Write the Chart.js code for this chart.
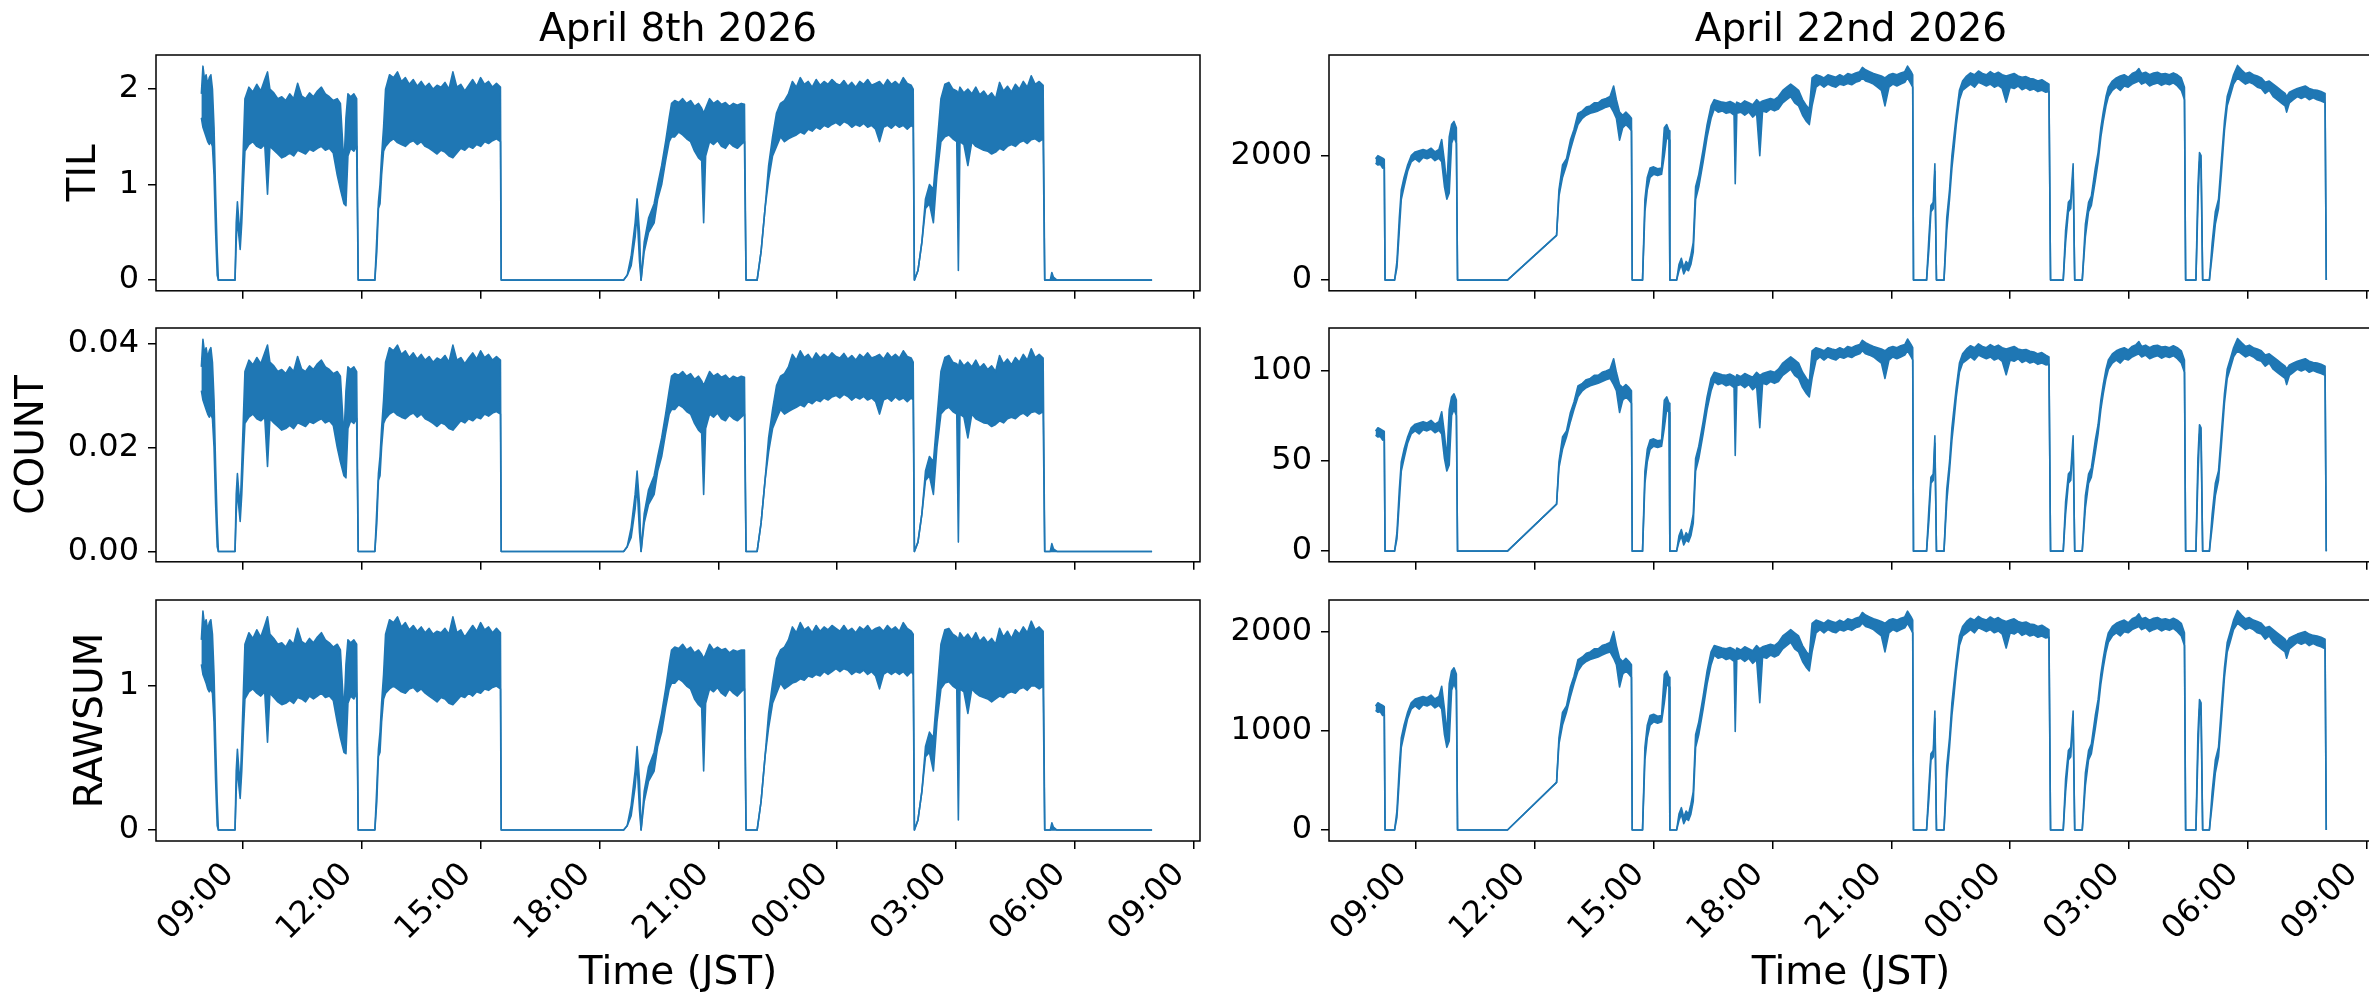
<!DOCTYPE html>
<html>
<head>
<meta charset="utf-8">
<title>TIL / COUNT / RAWSUM</title>
<script src="https://cdn.jsdelivr.net/npm/chart.js@4.4.1/dist/chart.umd.min.js"></script>
<style>
  html, body { margin: 0; padding: 0; background: #fff; overflow: hidden; }
  body { width: 2369px; height: 997px; position: relative; }
  canvas { position: absolute; }
</style>
</head>
<body>
<canvas id="tilLeft" width="1230" height="319" style="left:0;top:0"></canvas>
<canvas id="countLeft" width="1230" height="292" style="left:0;top:298px"></canvas>
<canvas id="rawLeft" width="1230" height="427" style="left:0;top:570px"></canvas>
<canvas id="tilRight" width="1213" height="319" style="left:1190px;top:0"></canvas>
<canvas id="countRight" width="1213" height="292" style="left:1190px;top:298px"></canvas>
<canvas id="rawRight" width="1213" height="427" style="left:1190px;top:570px"></canvas>
<script>
// time axis: hours after midnight of the first day (24 = 00:00 next day)
const xTickHours = [9, 12, 15, 18, 21, 24, 27, 30, 33];
const xTickLabels = ['09:00', '12:00', '15:00', '18:00', '21:00', '00:00', '03:00', '06:00', '09:00'];

const titles = ['April 8th 2026', 'April 22nd 2026'];

// ---------------- April 8th (left column) ----------------
// each value is the low / high edge of the noisy trace at that time
const leftHours = [
  7.95, 7.99, 8.03, 8.07, 8.11, 8.15, 8.19, 8.23, 8.27, 8.31, 8.35, 8.38,
  8.80, 8.83, 8.86, 8.90, 8.93, 8.97, 9.01, 9.05,
  9.15, 9.25, 9.35, 9.45, 9.55, 9.62, 9.68, 9.78, 9.88, 9.98, 10.08, 10.18,
  10.28, 10.38, 10.48, 10.58, 10.68, 10.78, 10.88, 10.98, 11.08, 11.18, 11.28, 11.38,
  11.46, 11.55, 11.60, 11.65, 11.72, 11.80, 11.87, 11.91,
  12.33, 12.38, 12.42, 12.46, 12.50, 12.55, 12.60,
  12.70, 12.80, 12.90, 13.00, 13.10, 13.20, 13.30, 13.40, 13.50, 13.60, 13.70, 13.80, 13.90, 14.00, 14.10,
  14.20, 14.30, 14.40, 14.50, 14.60, 14.70, 14.80, 14.90, 15.00, 15.10, 15.20, 15.30, 15.40, 15.50, 15.52,
  18.61, 18.70, 18.80, 18.90, 18.95, 19.01, 19.05, 19.13, 19.24, 19.38, 19.47, 19.57, 19.67, 19.76, 19.82,
  19.90, 20.00, 20.10, 20.20, 20.30, 20.40, 20.50, 20.58, 20.63, 20.68,
  20.78, 20.88, 20.98, 21.08, 21.18, 21.28, 21.38, 21.48, 21.58, 21.66, 21.70,
  21.98, 22.08, 22.18, 22.27, 22.37, 22.47, 22.57,
  22.67, 22.77, 22.87, 22.97, 23.07, 23.17, 23.27, 23.37, 23.47, 23.57, 23.67, 23.77,
  23.87, 23.97, 24.07, 24.17, 24.27, 24.37, 24.47, 24.57, 24.67, 24.77, 24.87, 24.97,
  25.07, 25.17, 25.27, 25.37, 25.47, 25.57, 25.67, 25.77, 25.87, 25.92, 25.95,
  26.04, 26.14, 26.23, 26.33, 26.43, 26.52, 26.62,
  26.72, 26.82, 26.92, 27.02, 27.06, 27.10, 27.20, 27.30, 27.40, 27.50, 27.60, 27.70,
  27.80, 27.90, 28.00, 28.10, 28.20, 28.30, 28.40, 28.50, 28.60, 28.70, 28.80, 28.90,
  29.00, 29.10, 29.20, 29.24, 29.38, 29.42, 29.46, 29.55, 31.95
];

const tilLeftLo = [
  1.70, 1.60, 1.55, 1.50, 1.45, 1.42, 1.45, 1.40, 1.10, 0.50, 0.05, 0,
  0, 0.40, 0.65, 0.45, 0.32, 0.60, 1.00, 1.35,
  1.42, 1.45, 1.40, 1.38, 1.42, 0.90, 1.40, 1.36, 1.32, 1.28, 1.30, 1.33,
  1.30, 1.36, 1.34, 1.32, 1.37, 1.35, 1.38, 1.40, 1.36, 1.38, 1.33, 1.10,
  0.95, 0.80, 0.78, 1.30, 1.38, 1.35, 1.40, 0,
  0, 0.30, 0.75, 0.80, 1.10, 1.35, 1.40,
  1.45, 1.48, 1.44, 1.42, 1.40, 1.44, 1.46, 1.42, 1.45, 1.40, 1.38, 1.35, 1.32, 1.36, 1.34,
  1.30, 1.28, 1.33, 1.38, 1.36, 1.40, 1.38, 1.42, 1.40, 1.45, 1.43, 1.46, 1.48, 1.45, 0,
  0, 0.05, 0.15, 0.45, 0.70, 0.20, 0, 0.30, 0.50, 0.60, 0.85, 1.00, 1.25, 1.45, 1.50,
  1.50, 1.55, 1.52, 1.48, 1.45, 1.35, 1.28, 1.25, 0.60, 1.30,
  1.45, 1.42, 1.46, 1.40, 1.38, 1.44, 1.40, 1.38, 1.42, 1.45, 0,
  0, 0.30, 0.75, 1.05, 1.30, 1.40, 1.50,
  1.45, 1.48, 1.50, 1.52, 1.55, 1.53, 1.58, 1.56, 1.60, 1.58, 1.62, 1.60,
  1.63, 1.65, 1.62, 1.66, 1.64, 1.60, 1.63, 1.61, 1.64, 1.60, 1.62, 1.58,
  1.45, 1.60, 1.62, 1.59, 1.63, 1.60, 1.62, 1.58, 1.62, 1.60, 0,
  0.10, 0.40, 0.75, 0.80, 0.60, 1.10, 1.45,
  1.50, 1.52, 1.48, 1.45, 0.10, 1.45, 1.42, 1.20, 1.45, 1.40, 1.38, 1.36,
  1.35, 1.32, 1.34, 1.38, 1.36, 1.40, 1.42, 1.40, 1.44, 1.46, 1.43, 1.47,
  1.48, 1.45, 1.48, 0, 0, 0, 0, 0, 0
];
const tilLeftHi = [
  1.95, 2.24, 2.10, 2.15, 2.05, 2.12, 2.15, 2.00, 1.60, 0.90, 0.30, 0,
  0, 0.60, 0.82, 0.60, 0.45, 0.90, 1.40, 1.90,
  2.02, 1.97, 2.05, 1.98, 2.10, 2.18, 2.00, 1.96, 1.90, 1.92, 1.88, 1.95,
  1.90, 2.06, 1.93, 1.90, 1.96, 1.92, 1.98, 2.02, 1.95, 1.92, 1.88, 1.90,
  1.85, 1.20, 1.70, 1.95, 1.92, 1.95, 1.90, 0,
  0, 0.45, 0.82, 1.00, 1.30, 1.60, 2.00,
  2.15, 2.12, 2.18, 2.08, 2.12, 2.05, 2.10, 2.03, 2.08, 2.02, 2.06, 2.00, 2.04, 2.02, 2.07,
  2.00, 2.18, 2.02, 2.05, 1.98, 2.04, 2.10, 2.03, 2.12, 2.05, 2.08, 2.02, 2.06, 2.02, 0,
  0, 0.05, 0.25, 0.60, 0.85, 0.50, 0, 0.40, 0.65, 0.80, 1.00, 1.20, 1.45, 1.70, 1.85,
  1.88, 1.86, 1.90, 1.85, 1.88, 1.82, 1.85, 1.80, 1.75, 1.80,
  1.90, 1.85, 1.88, 1.84, 1.86, 1.82, 1.85, 1.83, 1.85, 1.84, 0,
  0, 0.30, 0.75, 1.20, 1.50, 1.75, 1.85,
  1.88, 1.95, 2.08, 2.02, 2.12, 2.05, 2.08, 2.02, 2.10, 2.04, 2.08, 2.05,
  2.10, 2.06, 2.04, 2.09, 2.03, 2.07, 2.02, 2.08, 2.05, 2.10, 2.04, 2.06,
  2.08, 2.03, 2.10, 2.05, 2.08, 2.04, 2.12, 2.06, 2.04, 2.00, 0,
  0.10, 0.40, 0.85, 1.00, 0.95, 1.40, 1.90,
  2.05, 2.07, 2.00, 1.98, 1.95, 2.02, 1.96, 2.00, 1.95, 2.02, 1.94, 1.98,
  1.92, 1.96, 1.90, 2.07, 1.98, 2.03, 1.97, 2.05, 2.00, 2.08, 2.02, 2.14,
  2.05, 2.08, 2.04, 0, 0, 0.08, 0.03, 0, 0
];

const countLeftLo = [
  0.0310, 0.0292, 0.0283, 0.0274, 0.0265, 0.0259, 0.0265, 0.0256, 0.0201, 0.0091, 0.0009, 0,
  0, 0.0073, 0.0119, 0.0082, 0.0058, 0.0110, 0.0183, 0.0247,
  0.0259, 0.0265, 0.0256, 0.0252, 0.0259, 0.0164, 0.0256, 0.0248, 0.0241, 0.0234, 0.0237, 0.0243,
  0.0237, 0.0248, 0.0245, 0.0241, 0.0250, 0.0247, 0.0252, 0.0256, 0.0248, 0.0252, 0.0243, 0.0201,
  0.0173, 0.0146, 0.0142, 0.0237, 0.0252, 0.0247, 0.0256, 0,
  0, 0.0055, 0.0137, 0.0146, 0.0201, 0.0247, 0.0256,
  0.0265, 0.0270, 0.0263, 0.0259, 0.0256, 0.0263, 0.0267, 0.0259, 0.0265, 0.0256, 0.0252, 0.0247, 0.0241, 0.0248, 0.0245,
  0.0237, 0.0234, 0.0243, 0.0252, 0.0248, 0.0256, 0.0252, 0.0259, 0.0256, 0.0265, 0.0261, 0.0267, 0.0270, 0.0265, 0,
  0, 0.0009, 0.0027, 0.0082, 0.0128, 0.0037, 0, 0.0055, 0.0091, 0.0110, 0.0155, 0.0183, 0.0228, 0.0265, 0.0274,
  0.0274, 0.0283, 0.0278, 0.0270, 0.0265, 0.0247, 0.0234, 0.0228, 0.0110, 0.0237,
  0.0265, 0.0259, 0.0267, 0.0256, 0.0252, 0.0263, 0.0256, 0.0252, 0.0259, 0.0265, 0,
  0, 0.0055, 0.0137, 0.0192, 0.0237, 0.0256, 0.0274,
  0.0265, 0.0270, 0.0274, 0.0278, 0.0283, 0.0279, 0.0289, 0.0285, 0.0292, 0.0289, 0.0296, 0.0292,
  0.0298, 0.0301, 0.0296, 0.0303, 0.0299, 0.0292, 0.0298, 0.0294, 0.0299, 0.0292, 0.0296, 0.0289,
  0.0265, 0.0292, 0.0296, 0.0290, 0.0298, 0.0292, 0.0296, 0.0289, 0.0296, 0.0292, 0,
  0.0018, 0.0073, 0.0137, 0.0146, 0.0110, 0.0201, 0.0265,
  0.0274, 0.0278, 0.0270, 0.0265, 0.0018, 0.0265, 0.0259, 0.0219, 0.0265, 0.0256, 0.0252, 0.0248,
  0.0247, 0.0241, 0.0245, 0.0252, 0.0248, 0.0256, 0.0259, 0.0256, 0.0263, 0.0267, 0.0261, 0.0268,
  0.0270, 0.0265, 0.0270, 0, 0, 0, 0, 0, 0
];
const countLeftHi = [
  0.0356, 0.0409, 0.0383, 0.0393, 0.0374, 0.0387, 0.0393, 0.0365, 0.0292, 0.0164, 0.0055, 0,
  0, 0.0110, 0.0150, 0.0110, 0.0082, 0.0164, 0.0256, 0.0347,
  0.0369, 0.0360, 0.0374, 0.0362, 0.0383, 0.0398, 0.0365, 0.0358, 0.0347, 0.0351, 0.0343, 0.0356,
  0.0347, 0.0376, 0.0352, 0.0347, 0.0358, 0.0351, 0.0362, 0.0369, 0.0356, 0.0351, 0.0343, 0.0347,
  0.0338, 0.0219, 0.0310, 0.0356, 0.0351, 0.0356, 0.0347, 0,
  0, 0.0082, 0.0150, 0.0183, 0.0237, 0.0292, 0.0365,
  0.0393, 0.0387, 0.0398, 0.0380, 0.0387, 0.0374, 0.0383, 0.0371, 0.0380, 0.0369, 0.0376, 0.0365, 0.0373, 0.0369, 0.0378,
  0.0365, 0.0398, 0.0369, 0.0374, 0.0362, 0.0373, 0.0383, 0.0371, 0.0387, 0.0374, 0.0380, 0.0369, 0.0376, 0.0369, 0,
  0, 0.0009, 0.0046, 0.0110, 0.0155, 0.0091, 0, 0.0073, 0.0119, 0.0146, 0.0183, 0.0219, 0.0265, 0.0310, 0.0338,
  0.0343, 0.0340, 0.0347, 0.0338, 0.0343, 0.0332, 0.0338, 0.0329, 0.0320, 0.0329,
  0.0347, 0.0338, 0.0343, 0.0336, 0.0340, 0.0332, 0.0338, 0.0334, 0.0338, 0.0336, 0,
  0, 0.0055, 0.0137, 0.0219, 0.0274, 0.0320, 0.0338,
  0.0343, 0.0356, 0.0380, 0.0369, 0.0387, 0.0374, 0.0380, 0.0369, 0.0383, 0.0373, 0.0380, 0.0374,
  0.0383, 0.0376, 0.0373, 0.0382, 0.0371, 0.0378, 0.0369, 0.0380, 0.0374, 0.0383, 0.0373, 0.0376,
  0.0380, 0.0371, 0.0383, 0.0374, 0.0380, 0.0373, 0.0387, 0.0376, 0.0373, 0.0365, 0,
  0.0018, 0.0073, 0.0155, 0.0183, 0.0173, 0.0256, 0.0347,
  0.0374, 0.0378, 0.0365, 0.0362, 0.0356, 0.0369, 0.0358, 0.0365, 0.0356, 0.0369, 0.0354, 0.0362,
  0.0351, 0.0358, 0.0347, 0.0378, 0.0362, 0.0371, 0.0360, 0.0374, 0.0365, 0.0380, 0.0369, 0.0391,
  0.0374, 0.0380, 0.0373, 0, 0, 0.0015, 0.0005, 0, 0
];

const rawLeftLo = [
  1.15, 1.08, 1.05, 1.02, 0.98, 0.96, 0.98, 0.95, 0.75, 0.34, 0.03, 0,
  0, 0.27, 0.44, 0.30, 0.22, 0.41, 0.68, 0.91,
  0.96, 0.98, 0.95, 0.93, 0.96, 0.61, 0.95, 0.92, 0.89, 0.87, 0.88, 0.90,
  0.88, 0.92, 0.91, 0.89, 0.93, 0.91, 0.93, 0.95, 0.92, 0.93, 0.90, 0.75,
  0.64, 0.54, 0.53, 0.88, 0.93, 0.91, 0.95, 0,
  0, 0.20, 0.51, 0.54, 0.75, 0.91, 0.95,
  0.98, 1.00, 0.98, 0.96, 0.95, 0.98, 0.99, 0.96, 0.98, 0.95, 0.93, 0.91, 0.89, 0.92, 0.91,
  0.88, 0.87, 0.90, 0.93, 0.92, 0.95, 0.93, 0.96, 0.95, 0.98, 0.97, 0.99, 1.00, 0.98, 0,
  0, 0.03, 0.10, 0.30, 0.47, 0.14, 0, 0.20, 0.34, 0.41, 0.58, 0.68, 0.85, 0.98, 1.02,
  1.02, 1.05, 1.03, 1.00, 0.98, 0.91, 0.87, 0.85, 0.41, 0.88,
  0.98, 0.96, 0.99, 0.95, 0.93, 0.98, 0.95, 0.93, 0.96, 0.98, 0,
  0, 0.20, 0.51, 0.71, 0.88, 0.95, 1.02,
  0.98, 1.00, 1.02, 1.03, 1.05, 1.04, 1.07, 1.06, 1.08, 1.07, 1.10, 1.08,
  1.10, 1.12, 1.10, 1.12, 1.11, 1.08, 1.10, 1.09, 1.11, 1.08, 1.10, 1.07,
  0.98, 1.08, 1.10, 1.08, 1.10, 1.08, 1.10, 1.07, 1.10, 1.08, 0,
  0.07, 0.27, 0.51, 0.54, 0.41, 0.75, 0.98,
  1.02, 1.03, 1.00, 0.98, 0.07, 0.98, 0.96, 0.81, 0.98, 0.95, 0.93, 0.92,
  0.91, 0.89, 0.91, 0.93, 0.92, 0.95, 0.96, 0.95, 0.98, 0.99, 0.97, 1.00,
  1.00, 0.98, 1.00, 0, 0, 0, 0, 0, 0
];
const rawLeftHi = [
  1.32, 1.52, 1.42, 1.46, 1.39, 1.44, 1.46, 1.36, 1.08, 0.61, 0.20, 0,
  0, 0.41, 0.56, 0.41, 0.30, 0.61, 0.95, 1.29,
  1.37, 1.33, 1.39, 1.34, 1.42, 1.48, 1.36, 1.33, 1.29, 1.30, 1.27, 1.32,
  1.29, 1.40, 1.31, 1.29, 1.33, 1.30, 1.34, 1.37, 1.32, 1.30, 1.27, 1.29,
  1.25, 0.81, 1.15, 1.32, 1.30, 1.32, 1.29, 0,
  0, 0.30, 0.56, 0.68, 0.88, 1.08, 1.36,
  1.46, 1.44, 1.48, 1.41, 1.44, 1.39, 1.42, 1.38, 1.41, 1.37, 1.40, 1.36, 1.38, 1.37, 1.40,
  1.36, 1.48, 1.37, 1.39, 1.34, 1.38, 1.42, 1.38, 1.44, 1.39, 1.41, 1.37, 1.40, 1.37, 0,
  0, 0.03, 0.17, 0.41, 0.58, 0.34, 0, 0.27, 0.44, 0.54, 0.68, 0.81, 0.98, 1.15, 1.25,
  1.27, 1.26, 1.29, 1.25, 1.27, 1.23, 1.25, 1.22, 1.19, 1.22,
  1.29, 1.25, 1.27, 1.25, 1.26, 1.23, 1.25, 1.24, 1.25, 1.25, 0,
  0, 0.20, 0.51, 0.81, 1.02, 1.19, 1.25,
  1.27, 1.32, 1.41, 1.37, 1.44, 1.39, 1.41, 1.37, 1.42, 1.38, 1.41, 1.39,
  1.42, 1.40, 1.38, 1.42, 1.38, 1.40, 1.37, 1.41, 1.39, 1.42, 1.38, 1.40,
  1.41, 1.38, 1.42, 1.39, 1.41, 1.38, 1.44, 1.40, 1.38, 1.36, 0,
  0.07, 0.27, 0.58, 0.68, 0.64, 0.95, 1.29,
  1.39, 1.40, 1.36, 1.34, 1.32, 1.37, 1.33, 1.36, 1.32, 1.37, 1.31, 1.34,
  1.30, 1.33, 1.29, 1.40, 1.34, 1.38, 1.33, 1.39, 1.36, 1.41, 1.37, 1.45,
  1.39, 1.41, 1.38, 0, 0, 0.05, 0.02, 0, 0
];

// ---------------- April 22nd (right column) ----------------
const rightHours = [
  7.98, 8.04, 8.10, 8.16, 8.20, 8.22,
  8.46, 8.52, 8.58, 8.63, 8.70, 8.79, 8.88, 8.98, 9.08, 9.18, 9.28, 9.38,
  9.48, 9.58, 9.65, 9.72, 9.78, 9.84, 9.90, 9.96, 10.02, 10.05,
  11.31, 12.55, 12.61, 12.70, 12.80, 12.90, 12.99, 13.09, 13.20, 13.30, 13.40, 13.50,
  13.60, 13.70, 13.80, 13.90, 13.99, 14.06, 14.14, 14.22, 14.30, 14.38, 14.44, 14.46,
  14.72, 14.78, 14.84, 14.91, 15.00, 15.10, 15.20, 15.27, 15.33, 15.39, 15.41,
  15.58, 15.64, 15.70, 15.76, 15.82, 15.88, 15.94, 16.00, 16.06, 16.14, 16.25, 16.35, 16.45, 16.53,
  16.63, 16.73, 16.83, 16.93, 17.03, 17.06, 17.10, 17.20, 17.30, 17.40, 17.50, 17.60,
  17.68, 17.75, 17.85, 17.95, 18.05, 18.15, 18.26, 18.36, 18.46, 18.56, 18.66, 18.76,
  18.86, 18.93, 19.00, 19.10, 19.20, 19.30, 19.40, 19.50, 19.60, 19.70, 19.80, 19.90,
  20.00, 20.10, 20.20, 20.27, 20.35, 20.45, 20.55, 20.65, 20.75, 20.84, 20.94, 21.04,
  21.14, 21.24, 21.34, 21.41, 21.50, 21.54, 21.56,
  21.89, 21.95, 22.00, 22.06, 22.10, 22.14, 22.33, 22.40, 22.47, 22.53, 22.58, 22.64, 22.72, 22.80, 22.90,
  23.00, 23.10, 23.20, 23.30, 23.40, 23.50, 23.60, 23.70, 23.80, 23.90, 24.00,
  24.10, 24.20, 24.30, 24.40, 24.50, 24.60, 24.70, 24.80, 24.90, 24.98, 25.02,
  25.34, 25.40, 25.47, 25.53, 25.59, 25.63, 25.82, 25.90, 25.98, 26.05, 26.15, 26.22, 26.29, 26.35, 26.42, 26.48, 26.58,
  26.68, 26.78, 26.88, 26.98, 27.08, 27.18, 27.25, 27.32, 27.42, 27.52,
  27.62, 27.72, 27.82, 27.92, 28.02, 28.12, 28.22, 28.32, 28.40, 28.43,
  28.69, 28.74, 28.78, 28.82, 28.86, 29.03, 29.10, 29.18, 29.26, 29.33, 29.41, 29.48, 29.55, 29.64,
  29.74, 29.84, 29.94, 30.04, 30.14, 30.24, 30.34, 30.44, 30.54, 30.64, 30.74, 30.84,
  30.94, 30.98, 31.05, 31.15, 31.25, 31.35, 31.45, 31.55, 31.65, 31.75, 31.85, 31.95, 31.98
];

const tilRightLo = [
  1880, 1850, 1860, 1800, 1820, 0,
  0, 200, 800, 1300, 1500, 1750, 1900, 1950, 1900, 1970, 1950, 1980,
  1920, 1960, 1900, 1500, 1300, 1400, 2200, 2300, 2200, 0,
  0, 720, 1350, 1650, 1850, 2100, 2300, 2500, 2600, 2650, 2680, 2700,
  2720, 2750, 2780, 2800, 2700, 2600, 2250, 2450, 2500, 2450, 2400, 0,
  0, 1100, 1450, 1650, 1700, 1680, 1700, 2000, 2300, 2250, 0,
  0, 150, 250, 100, 180, 150, 250, 450, 1300, 1500, 1900, 2300, 2600, 2750,
  2700, 2720, 2680, 2700, 2650, 1550, 2680, 2700, 2650, 2700, 2620, 2680,
  2000, 2720, 2700, 2750, 2720, 2750, 2850, 2900, 2950, 2850, 2800, 2650,
  2550, 2500, 2800, 3100, 3150, 3100, 3150, 3120, 3100, 3150, 3130, 3160,
  3140, 3180, 3200, 3250, 3200, 3180, 3150, 3100, 3050, 2800, 3100, 3150,
  3120, 3150, 3180, 3250, 3150, 3100, 0,
  0, 500, 1100, 1150, 1750, 0, 0, 800, 1300, 1800, 2100, 2500, 2900, 3050, 3100,
  3150, 3100, 3180, 3150, 3120, 3150, 3100, 3130, 3080, 2860, 3100,
  3080, 3120, 3060, 3090, 3050, 3070, 3030, 3050, 3020, 3030, 0,
  0, 600, 1100, 1150, 1750, 0, 0, 700, 1100, 1200, 1600, 1900, 2300, 2550, 2800, 2950, 3050,
  3100, 3050, 3120, 3100, 3150, 3180, 3200, 3150, 3180, 3120,
  3150, 3170, 3130, 3160, 3140, 3170, 3120, 3050, 2900, 0,
  0, 1200, 1900, 1800, 0, 0, 400, 900, 1150, 1700, 2400, 2800, 2950, 3150,
  3250, 3200, 3150, 3180, 3150, 3100, 3080, 3000, 3050, 2950, 2900, 2850,
  2800, 2700, 2850, 2900, 2950, 2920, 2950, 2900, 2930, 2900, 2880, 2850, 0
];
const tilRightHi = [
  1950, 2000, 1980, 1960, 1940, 0,
  0, 300, 1000, 1450, 1650, 1850, 2000, 2060, 2080, 2100, 2080, 2120,
  2060, 2100, 2260, 1900, 1500, 2300, 2500, 2550, 2450, 0,
  0, 720, 1450, 1850, 1950, 2250, 2420, 2680, 2720, 2780, 2800, 2850,
  2850, 2900, 2920, 2950, 3120, 2900, 2700, 2650, 2700, 2650, 2600, 0,
  0, 1300, 1650, 1800, 1820, 1790, 1800, 2450, 2500, 2400, 0,
  0, 250, 350, 200, 300, 250, 400, 600, 1500, 1700, 2100, 2500, 2800, 2900,
  2880, 2860, 2850, 2870, 2840, 2800, 2860, 2830, 2880, 2850, 2820, 2900,
  2850, 2880, 2900, 2920, 2900, 2950, 3050, 3100, 3150, 3100, 3050, 2900,
  2800, 2750, 3250, 3300, 3280, 3250, 3300, 3280, 3260, 3300, 3270, 3320,
  3300, 3330, 3350, 3420, 3380, 3350, 3320, 3300, 3280, 3250, 3300, 3320,
  3300, 3330, 3350, 3440, 3350, 3300, 0,
  0, 700, 1200, 1250, 1870, 0, 0, 1000, 1450, 2000, 2300, 2650, 3050, 3200, 3280,
  3330, 3300, 3360, 3320, 3300, 3350, 3310, 3340, 3300, 3280, 3300,
  3320, 3280, 3260, 3270, 3240, 3230, 3200, 3220, 3180, 3150, 0,
  0, 800, 1250, 1300, 1870, 0, 0, 900, 1250, 1350, 1800, 2050, 2450, 2700, 2950, 3100, 3200,
  3250, 3280, 3300, 3260, 3320, 3350, 3400, 3320, 3340, 3300,
  3330, 3340, 3310, 3320, 3300, 3330, 3300, 3250, 3100, 0,
  0, 1500, 2050, 2000, 0, 0, 600, 1100, 1300, 1900, 2550, 2950, 3100, 3300,
  3450, 3380, 3320, 3340, 3300, 3280, 3250, 3180, 3200, 3150, 3100, 3050,
  3000, 2950, 3020, 3050, 3080, 3100, 3120, 3080, 3060, 3050, 3030, 3000, 0
];

const countRightLo = [
  64.1, 63.1, 63.4, 61.4, 62.1, 0,
  0, 6.8, 27.3, 44.3, 51.2, 59.7, 64.8, 66.5, 64.8, 67.2, 66.5, 67.5,
  65.5, 66.8, 64.8, 51.2, 44.3, 47.7, 75.0, 78.4, 75.0, 0,
  0, 26, 46.0, 56.3, 63.1, 71.6, 78.4, 85.3, 88.7, 90.4, 91.4, 92.1,
  92.8, 93.8, 94.8, 95.5, 92.1, 88.7, 76.7, 83.5, 85.3, 83.5, 81.8, 0,
  0, 37.5, 49.4, 56.3, 58.0, 57.3, 58.0, 68.2, 78.4, 76.7, 0,
  0, 5.1, 8.5, 3.4, 6.1, 5.1, 8.5, 15.3, 44.3, 51.2, 64.8, 78.4, 88.7, 93.8,
  92.1, 92.8, 91.4, 92.1, 90.4, 52.9, 91.4, 92.1, 90.4, 92.1, 89.3, 91.4,
  68.2, 92.8, 92.1, 93.8, 92.8, 93.8, 97.2, 98.9, 100.6, 97.2, 95.5, 90.4,
  87.0, 85.3, 95.5, 105.7, 107.4, 105.7, 107.4, 106.4, 105.7, 107.4, 106.7, 107.8,
  107.1, 108.4, 109.1, 110.8, 109.1, 108.4, 107.4, 105.7, 104.0, 95.5, 105.7, 107.4,
  106.4, 107.4, 108.4, 110.8, 107.4, 105.7, 0,
  0, 17.1, 37.5, 39.2, 59.7, 0, 0, 27.3, 44.3, 61.4, 71.6, 85.3, 98.9, 104.0, 105.7,
  107.4, 105.7, 108.4, 107.4, 106.4, 107.4, 105.7, 106.7, 105.0, 97.5, 105.7,
  105.0, 106.4, 104.3, 105.4, 104.0, 104.7, 103.3, 104.0, 103.0, 103.3, 0,
  0, 20.5, 37.5, 39.2, 59.7, 0, 0, 23.9, 37.5, 40.9, 54.6, 64.8, 78.4, 87.0, 95.5, 100.6, 104.0,
  105.7, 104.0, 106.4, 105.7, 107.4, 108.4, 109.1, 107.4, 108.4, 106.4,
  107.4, 108.1, 106.7, 107.8, 107.1, 108.1, 106.4, 104.0, 98.9, 0,
  0, 40.9, 64.8, 61.4, 0, 0, 13.6, 30.7, 39.2, 58.0, 81.8, 95.5, 100.6, 107.4,
  110.8, 109.1, 107.4, 108.4, 107.4, 105.7, 105.0, 102.3, 104.0, 100.6, 98.9, 97.2,
  95.5, 92.1, 97.2, 98.9, 100.6, 99.6, 100.6, 98.9, 99.9, 98.9, 98.2, 97.2, 0
];
const countRightHi = [
  66.5, 68.2, 67.5, 66.8, 66.2, 0,
  0, 10.2, 34.1, 49.4, 56.3, 63.1, 68.2, 70.2, 70.9, 71.6, 70.9, 72.3,
  70.2, 71.6, 77.1, 64.8, 51.2, 78.4, 85.3, 87.0, 83.5, 0,
  0, 26, 49.4, 63.1, 66.5, 76.7, 82.5, 91.4, 92.8, 94.8, 95.5, 97.2,
  97.2, 98.9, 99.6, 100.6, 106.4, 98.9, 92.1, 90.4, 92.1, 90.4, 88.7, 0,
  0, 44.3, 56.3, 61.4, 62.1, 61.0, 61.4, 83.5, 85.3, 81.8, 0,
  0, 8.5, 11.9, 6.8, 10.2, 8.5, 13.6, 20.5, 51.2, 58.0, 71.6, 85.3, 95.5, 98.9,
  98.2, 97.5, 97.2, 97.9, 96.8, 95.5, 97.5, 96.5, 98.2, 97.2, 96.2, 98.9,
  97.2, 98.2, 98.9, 99.6, 98.9, 100.6, 104.0, 105.7, 107.4, 105.7, 104.0, 98.9,
  95.5, 93.8, 110.8, 112.5, 111.8, 110.8, 112.5, 111.8, 111.2, 112.5, 111.5, 113.2,
  112.5, 113.6, 114.2, 116.6, 115.3, 114.2, 113.2, 112.5, 111.8, 110.8, 112.5, 113.2,
  112.5, 113.6, 114.2, 117.3, 114.2, 112.5, 0,
  0, 23.9, 40.9, 42.6, 63.8, 0, 0, 34.1, 49.4, 68.2, 78.4, 90.4, 104.0, 109.1, 111.8,
  113.6, 112.5, 114.6, 113.2, 112.5, 114.2, 112.9, 113.9, 112.5, 111.8, 112.5,
  113.2, 111.8, 111.2, 111.5, 110.5, 110.1, 109.1, 109.8, 108.4, 107.4, 0,
  0, 27.3, 42.6, 44.3, 63.8, 0, 0, 30.7, 42.6, 46.0, 61.4, 69.9, 83.5, 92.1, 100.6, 105.7, 109.1,
  110.8, 111.8, 112.5, 111.2, 113.2, 114.2, 115.9, 113.2, 113.9, 112.5,
  113.6, 113.9, 112.9, 113.2, 112.5, 113.6, 112.5, 110.8, 105.7, 0,
  0, 51.2, 69.9, 68.2, 0, 0, 20.5, 37.5, 44.3, 64.8, 87.0, 100.6, 105.7, 112.5,
  117.6, 115.3, 113.2, 113.9, 112.5, 111.8, 110.8, 108.4, 109.1, 107.4, 105.7, 104.0,
  102.3, 100.6, 103.0, 104.0, 105.0, 105.7, 106.4, 105.0, 104.3, 104.0, 103.3, 102.3, 0
];

const rawRightLo = [
  1206, 1187, 1193, 1155, 1168, 0,
  0, 128, 513, 834, 962, 1123, 1219, 1251, 1219, 1264, 1251, 1270,
  1232, 1257, 1219, 962, 834, 898, 1411, 1475, 1411, 0,
  0, 480, 866, 1058, 1187, 1347, 1475, 1604, 1668, 1700, 1719, 1732,
  1745, 1764, 1783, 1796, 1732, 1668, 1443, 1572, 1604, 1572, 1540, 0,
  0, 706, 930, 1058, 1091, 1078, 1091, 1283, 1475, 1443, 0,
  0, 96, 160, 64, 115, 96, 160, 289, 834, 962, 1219, 1475, 1668, 1764,
  1732, 1745, 1719, 1732, 1700, 994, 1719, 1732, 1700, 1732, 1681, 1719,
  1283, 1745, 1732, 1764, 1745, 1764, 1828, 1860, 1892, 1828, 1796, 1700,
  1636, 1604, 1796, 1989, 2021, 1989, 2021, 2001, 1989, 2021, 2008, 2027,
  2014, 2040, 2053, 2085, 2053, 2040, 2021, 1989, 1957, 1796, 1989, 2021,
  2001, 2021, 2040, 2085, 2021, 1989, 0,
  0, 321, 706, 738, 1123, 0, 0, 513, 834, 1155, 1347, 1604, 1860, 1957, 1989,
  2021, 1989, 2040, 2021, 2001, 2021, 1989, 2008, 1976, 1835, 1989,
  1976, 2001, 1963, 1982, 1957, 1969, 1944, 1957, 1937, 1944, 0,
  0, 385, 706, 738, 1123, 0, 0, 449, 706, 770, 1026, 1219, 1475, 1636, 1796, 1892, 1957,
  1989, 1957, 2001, 1989, 2021, 2040, 2053, 2021, 2040, 2001,
  2021, 2034, 2008, 2027, 2014, 2034, 2001, 1957, 1860, 0,
  0, 770, 1219, 1155, 0, 0, 257, 577, 738, 1091, 1540, 1796, 1892, 2021,
  2085, 2053, 2021, 2040, 2021, 1989, 1976, 1925, 1957, 1892, 1860, 1828,
  1796, 1732, 1828, 1860, 1892, 1873, 1892, 1860, 1880, 1860, 1848, 1828, 0
];
const rawRightHi = [
  1251, 1283, 1270, 1257, 1245, 0,
  0, 192, 642, 930, 1058, 1187, 1283, 1321, 1334, 1347, 1334, 1360,
  1321, 1347, 1450, 1219, 962, 1475, 1604, 1636, 1572, 0,
  0, 480, 930, 1187, 1251, 1443, 1552, 1719, 1745, 1783, 1796, 1828,
  1828, 1860, 1873, 1892, 2001, 1860, 1732, 1700, 1732, 1700, 1668, 0,
  0, 834, 1058, 1155, 1168, 1148, 1155, 1572, 1604, 1540, 0,
  0, 160, 225, 128, 192, 160, 257, 385, 962, 1091, 1347, 1604, 1796, 1860,
  1848, 1835, 1828, 1841, 1822, 1796, 1835, 1815, 1848, 1828, 1809, 1860,
  1828, 1848, 1860, 1873, 1860, 1892, 1957, 1989, 2021, 1989, 1957, 1860,
  1796, 1764, 2085, 2117, 2104, 2085, 2117, 2104, 2091, 2117, 2098, 2130,
  2117, 2136, 2149, 2194, 2168, 2149, 2130, 2117, 2104, 2085, 2117, 2130,
  2117, 2136, 2149, 2207, 2149, 2117, 0,
  0, 449, 770, 802, 1200, 0, 0, 642, 930, 1283, 1475, 1700, 1957, 2053, 2104,
  2136, 2117, 2155, 2130, 2117, 2149, 2123, 2143, 2117, 2104, 2117,
  2130, 2104, 2091, 2098, 2078, 2072, 2053, 2066, 2040, 2021, 0,
  0, 513, 802, 834, 1200, 0, 0, 577, 802, 866, 1155, 1315, 1572, 1732, 1892, 1989, 2053,
  2085, 2104, 2117, 2091, 2130, 2149, 2181, 2130, 2143, 2117,
  2136, 2143, 2123, 2130, 2117, 2136, 2117, 2085, 1989, 0,
  0, 962, 1315, 1283, 0, 0, 385, 706, 834, 1219, 1636, 1892, 1989, 2117,
  2213, 2168, 2130, 2143, 2117, 2104, 2085, 2040, 2053, 2021, 1989, 1957,
  1925, 1892, 1937, 1957, 1976, 1989, 2001, 1976, 1963, 1957, 1944, 1925, 0
];

// y axis ticks per panel
const tilLeftTicks = [0, 1, 2];
const tilLeftTickLabels = ['0', '1', '2'];
const countLeftTicks = [0, 0.02, 0.04];
const countLeftTickLabels = ['0.00', '0.02', '0.04'];
const rawLeftTicks = [0, 1];
const rawLeftTickLabels = ['0', '1'];
const tilRightTicks = [0, 2000];
const tilRightTickLabels = ['0', '2000'];
const countRightTicks = [0, 50, 100];
const countRightTickLabels = ['0', '50', '100'];
const rawRightTicks = [0, 1000, 2000];
const rawRightTickLabels = ['0', '1000', '2000'];

const BLUE = '#1f77b4';
Chart.defaults.font.family = '"DejaVu Sans", sans-serif';
Chart.defaults.color = '#000';

// box around each axes, like matplotlib spines
const frame = {
  id: 'frame',
  afterDraw(chart) {
    const { ctx, chartArea: a } = chart;
    ctx.save();
    ctx.strokeStyle = '#000';
    ctx.lineWidth = 1.5;
    ctx.strokeRect(a.left, a.top, a.right - a.left, a.bottom - a.top);
    ctx.restore();
  }
};

function drawPanel(id, p) {
  if (p.lo.length !== p.hours.length || p.hi.length !== p.hours.length) {
    throw new Error(id + ': ' + p.hours.length + ' / ' + p.lo.length + ' / ' + p.hi.length);
  }
  const hiPts = p.hours.map((h, i) => ({ x: h, y: p.hi[i] }));
  const loPts = p.hours.map((h, i) => ({ x: h, y: p.lo[i] }));

  new Chart(document.getElementById(id), {
    type: 'line',
    data: {
      datasets: [
        { data: hiPts, borderColor: BLUE, borderWidth: 1.6, pointRadius: 0, fill: false, borderJoinStyle: 'round' },
        { data: loPts, borderColor: BLUE, backgroundColor: BLUE, borderWidth: 1.6, pointRadius: 0, fill: '-1', borderJoinStyle: 'round' }
      ]
    },
    options: {
      responsive: false,
      animation: false,
      events: [],
      layout: { padding: { top: p.padTop, bottom: p.padBottom, left: 0, right: 30 } },
      plugins: {
        legend: { display: false },
        tooltip: { enabled: false },
        title: {
          display: !!p.header,
          text: p.header || '',
          fullSize: false,
          color: '#000',
          font: { size: 39, weight: 'normal' },
          padding: { top: 7, bottom: 1.2 }
        }
      },
      scales: {
        x: {
          type: 'linear',
          min: 6.805,
          max: 33.16,
          afterBuildTicks: ax => { ax.ticks = xTickHours.map(v => ({ value: v })); },
          afterFit: ax => { ax.height = p.xHeight; },
          ticks: {
            display: p.showX,
            autoSkip: false,
            minRotation: 45,
            maxRotation: 45,
            padding: 7,
            labelOffset: -14,
            font: { size: 32 },
            callback: (v, i) => xTickLabels[i]
          },
          grid: { drawOnChartArea: false, tickLength: 8, color: '#000', lineWidth: 1.5 },
          border: { display: false },
          title: { display: p.showX, text: 'Time (JST)', font: { size: 39 }, padding: { top: 0, bottom: 0 } }
        },
        y: {
          min: p.yMin,
          max: p.yMax,
          afterBuildTicks: ax => { ax.ticks = p.yTicks.map(v => ({ value: v })); },
          afterFit: ax => { ax.width = p.yWidth; },
          ticks: { padding: 9, font: { size: 32 }, callback: (v, i) => p.yTickLabels[i] },
          grid: { drawOnChartArea: false, tickLength: 8, color: '#000', lineWidth: 1.5 },
          border: { display: false },
          title: {
            display: !!p.yTitle,
            text: p.yTitle || '',
            font: { size: 39 },
            padding: { top: p.yTitlePad || 0, bottom: 0 }
          }
        }
      }
    },
    plugins: [frame]
  });
}

const topRow = { padTop: 0, padBottom: 12, xHeight: 10, showX: false };
const midRow = { padTop: 30, padBottom: 12, xHeight: 10, showX: false };
const lowRow = { padTop: 30, padBottom: 0, xHeight: 156, showX: true };

drawPanel('tilLeft', Object.assign({}, topRow, {
  header: titles[0], hours: leftHours, lo: tilLeftLo, hi: tilLeftHi,
  yMin: -0.112, yMax: 2.357, yTicks: tilLeftTicks, yTickLabels: tilLeftTickLabels,
  yWidth: 156, yTitle: 'TIL', yTitlePad: 61
}));
drawPanel('countLeft', Object.assign({}, midRow, {
  hours: leftHours, lo: countLeftLo, hi: countLeftHi,
  yMin: -0.0020, yMax: 0.0431, yTicks: countLeftTicks, yTickLabels: countLeftTickLabels,
  yWidth: 156, yTitle: 'COUNT', yTitlePad: 9
}));
drawPanel('rawLeft', Object.assign({}, lowRow, {
  hours: leftHours, lo: rawLeftLo, hi: rawLeftHi,
  yMin: -0.076, yMax: 1.597, yTicks: rawLeftTicks, yTickLabels: rawLeftTickLabels,
  yWidth: 156, yTitle: 'RAWSUM', yTitlePad: 68
}));
drawPanel('tilRight', Object.assign({}, topRow, {
  header: titles[1], hours: rightHours, lo: tilRightLo, hi: tilRightHi,
  yMin: -172, yMax: 3618, yTicks: tilRightTicks, yTickLabels: tilRightTickLabels,
  yWidth: 139
}));
drawPanel('countRight', Object.assign({}, midRow, {
  hours: rightHours, lo: countRightLo, hi: countRightHi,
  yMin: -5.9, yMax: 123.4, yTicks: countRightTicks, yTickLabels: countRightTickLabels,
  yWidth: 139
}));
drawPanel('rawRight', Object.assign({}, lowRow, {
  hours: rightHours, lo: rawRightLo, hi: rawRightHi,
  yMin: -111, yMax: 2320, yTicks: rawRightTicks, yTickLabels: rawRightTickLabels,
  yWidth: 139
}));
</script>
</body>
</html>
